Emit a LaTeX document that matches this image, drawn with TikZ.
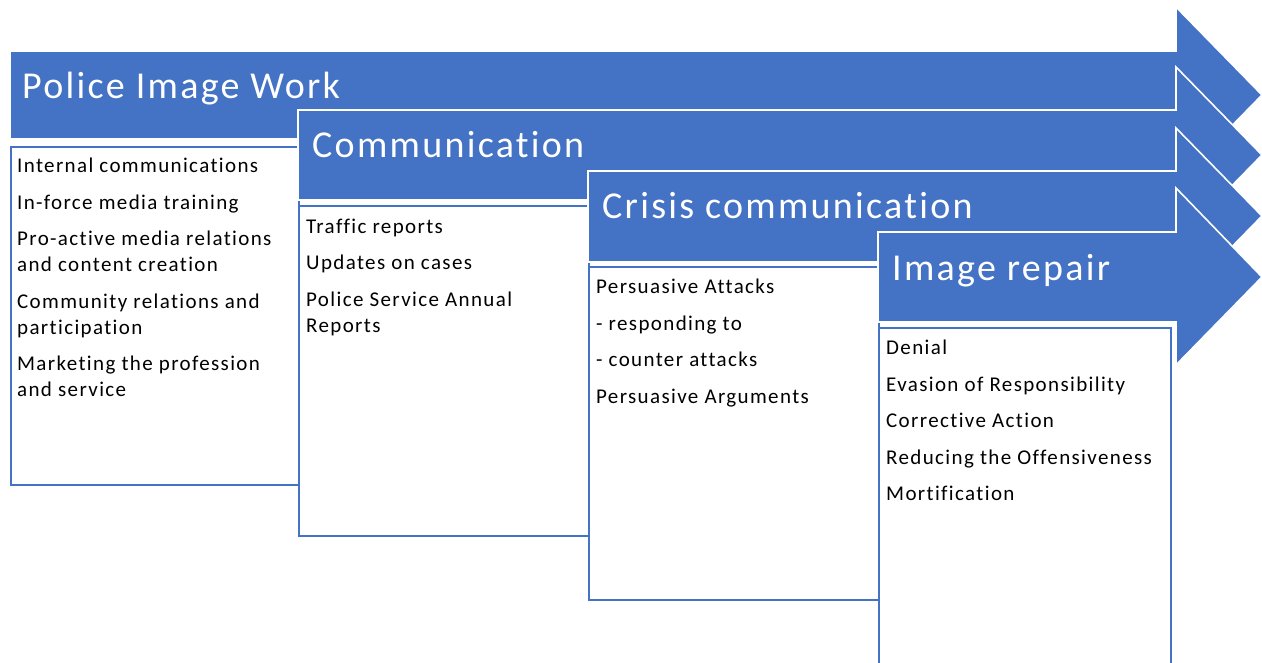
\documentclass[tikz,border=0pt]{standalone}
\usepackage{fontspec}
\setmainfont{Carlito}
\newfontfamily\titlefont{Carlito}[LetterSpace=6, Ligatures=NoCommon]
\newfontfamily\itemfont{Carlito}[LetterSpace=6.5, Ligatures=NoCommon]
\usepackage{tikz}
\definecolor{stageblue}{HTML}{4472C4}

\tikzset{
  stage/.style={fill=stageblue, draw=white, line width=1.6pt, line join=miter},
  stagetitle/.style={anchor=base west, inner sep=0pt, text=white,
    font=\titlefont\fontsize{38}{46}\selectfont},
  listbox/.style={draw=stageblue, fill=white, line width=1.8pt,
    anchor=north west, inner sep=0pt},
  listtext/.style={anchor=north west, inner sep=0pt, align=left,
    font=\itemfont\fontsize{21}{26}\selectfont}
}

\begin{document}
\begin{tikzpicture}[x=1pt, y=-1pt]
    \useasboundingbox (0,0) rectangle (1262,663);

    % Stage 1
    \draw[stage] (10,51) -- (1176,51) -- (1176,7) -- (1262,95)
        -- (1176,183) -- (1176,139) -- (10,139) -- cycle;
    \node[stagetitle] (title1) at (22,98.5) {Police Image Work};
    \node[listbox, minimum width=288, minimum height=338] (box1) at (10,146) {};
    \node[listtext] (items1) at ([shift={(7,12)}]box1.north west)
        {Internal communications\\[10.5pt]
         In-force media training\\[10.5pt]
         Pro-active media relations\\and content creation\\[10.5pt]
         Community relations and\\participation\\[10.5pt]
         Marketing the profession\\and service};

    % Stage 2
    \draw[stage] (298,110) -- (1176,110) -- (1176,67) -- (1262,155)
        -- (1176,243) -- (1176,200) -- (298,200) -- cycle;
    \node[stagetitle] (title2) at (312,158) {Communication};
    \node[listbox, minimum width=290, minimum height=330] (box2) at (298,205) {};
    \node[listtext] (items2) at ([shift={(8,13.5)}]box2.north west)
        {Traffic reports\\[10.5pt]
         Updates on cases\\[10.5pt]
         Police Service Annual\\Reports};

    % Stage 3
    \draw[stage] (588,171) -- (1176,171) -- (1176,128) -- (1262,216)
        -- (1176,304) -- (1176,262) -- (588,262) -- cycle;
    \node[stagetitle] (title3) at (602,219) {Crisis communication};
    \node[listbox, minimum width=290, minimum height=333] (box3) at (588,266) {};
    \node[listtext] (items3) at ([shift={(8,13)}]box3.north west)
        {Persuasive Attacks\\[10.5pt]
         - responding to\\[10.5pt]
         - counter attacks\\[10.5pt]
         Persuasive Arguments};

    % Stage 4
    \draw[stage] (878,232) -- (1176,232) -- (1176,188) -- (1262,277)
        -- (1176,365) -- (1176,322) -- (878,322) -- cycle;
    \node[stagetitle] (title4) at (892,280) {Image repair};
    \node[listbox, minimum width=292, minimum height=340] (box4) at (878,327) {};
    \node[listtext] (items4) at ([shift={(8,13)}]box4.north west)
        {Denial\\[10.5pt]
         Evasion of Responsibility\\[10.5pt]
         Corrective Action\\[10.5pt]
         Reducing the Offensiveness\\[10.5pt]
         Mortification};
\end{tikzpicture}
\end{document}
